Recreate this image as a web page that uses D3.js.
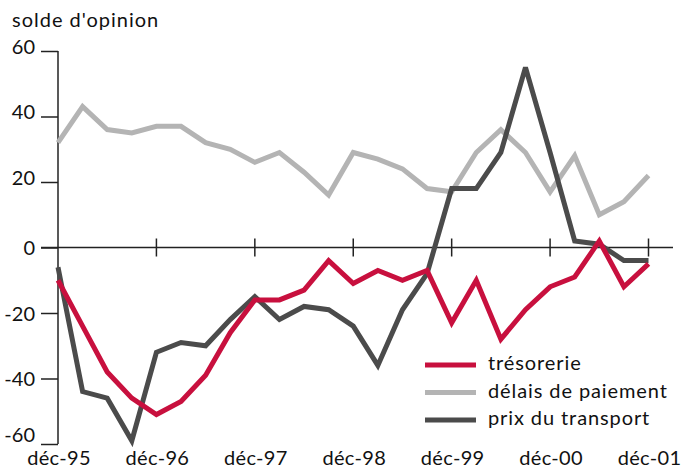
<!DOCTYPE html>
<html>
<head>
<meta charset="utf-8">
<script src="https://cdn.jsdelivr.net/npm/d3@7"></script>
<style>
  body { margin: 0; background: #fff; }
  svg { display: block; font-family: Lato, "Noto Sans", sans-serif; }
</style>
</head>
<body>
<svg width="683" height="468"></svg>
<script>
// trimestres de déc-95 à déc-01
var yearLabels = ["déc-95", "déc-96", "déc-97", "déc-98", "déc-99", "déc-00", "déc-01"];
var yTicks = [-60, -40, -20, 0, 20, 40, 60];

var tresorerie = [-10, -24, -38, -46, -51, -47, -39, -26, -16, -16, -13, -4, -11,
                  -7, -10, -7, -23, -10, -28, -19, -12, -9, 2, -12, -5];
var delais = [32, 43, 36, 35, 37, 37, 32, 30, 26, 29, 23, 16, 29,
              27, 24, 18, 17, 29, 36, 29, 17, 28, 10, 14, 22];
var prix = [-6, -44, -46, -59, -32, -29, -30, -22, -15, -22, -18, -19, -24,
            -36, -19, -8, 18, 18, 29, 55, 29, 2, 1, -4, -4];

var series = [
  { name: "délais de paiement", values: delais, color: "#b4b4b4" },
  { name: "prix du transport", values: prix, color: "#4b4b4b" },
  { name: "trésorerie", values: tresorerie, color: "#c8103e" }
];
var legendOrder = [2, 0, 1];

var svg = d3.select("svg");

var x = d3.scaleLinear().domain([0, 24]).range([58, 648.5]);
var y = d3.scaleLinear().domain([-60, 60]).range([444, 51]);

// titre
svg.append("text")
    .attr("x", 12)
    .attr("y", 27)
    .style("font-size", "20px")
    .style("letter-spacing", "1px")
    .attr("fill", "#111")
    .text("solde d'opinion");

// axe vertical
var yAxis = d3.axisLeft(y)
    .tickValues(yTicks)
    .tickSize(17)
    .tickPadding(6)
    .tickFormat(d3.format("d"));

var gy = svg.append("g")
    .attr("transform", "translate(58,0)")
    .call(yAxis);
gy.select(".domain").attr("d", "M0," + y(60) + "V" + y(-60))
    .attr("stroke", "#222").attr("stroke-width", 1.5);
gy.selectAll(".tick line").attr("stroke", "#222").attr("stroke-width", 1.5);
gy.selectAll(".tick text")
    .attr("fill", "#111")
    .style("font-size", "20px")
    .style("font-family", "Lato, sans-serif")
    .text(function(d) { return d; })
    .attr("dy", function(d) {
      if (d === -60) return "-0.15em";
      return d > 0 ? "0.12em" : "0.36em";
    });

// ligne du zéro
svg.append("line")
    .attr("x1", 41).attr("x2", 673)
    .attr("y1", y(0)).attr("y2", y(0))
    .attr("stroke", "#222").attr("stroke-width", 1.5);

svg.append("g").selectAll("line")
    .data(d3.range(1, 7))
    .enter()
    .append("line")
    .attr("x1", function(d) { return x(d * 4); })
    .attr("x2", function(d) { return x(d * 4); })
    .attr("y1", y(0) - 9)
    .attr("y2", y(0) + 9)
    .attr("stroke", "#222")
    .attr("stroke-width", 1.5);

// étiquettes des années
svg.append("g").selectAll("text")
    .data(yearLabels)
    .enter()
    .append("text")
    .attr("x", function(d, i) { return x(i * 4) + 1; })
    .attr("y", 465)
    .attr("text-anchor", "middle")
    .style("font-size", "20px")
    .style("letter-spacing", "0.3px")
    .attr("fill", "#111")
    .text(function(d) { return d; });

// courbes
var line = d3.line()
    .x(function(d, i) { return x(i); })
    .y(function(d) { return y(d); })
    .curve(d3.curveLinear);

svg.append("g").selectAll("path")
    .data(series)
    .enter()
    .append("path")
    .attr("d", function(d) { return line(d.values); })
    .attr("fill", "none")
    .attr("stroke", function(d) { return d.color; })
    .attr("stroke-width", 5)
    .attr("stroke-linejoin", "miter")
    .attr("stroke-miterlimit", 3);

// légende
var leg = svg.append("g").selectAll("g")
    .data(legendOrder.map(function(k) { return series[k]; }))
    .enter()
    .append("g")
    .attr("transform", function(d, i) { return "translate(425," + (365 + i * 27.5) + ")"; });

leg.append("line")
    .attr("x1", 0).attr("x2", 51)
    .attr("stroke", function(d) { return d.color; })
    .attr("stroke-width", 5);

leg.append("text")
    .attr("x", 63)
    .attr("y", 5)
    .style("font-size", "20px")
    .style("letter-spacing", "0.9px")
    .attr("fill", "#111")
    .text(function(d) { return d.name; });
</script>
</body>
</html>
